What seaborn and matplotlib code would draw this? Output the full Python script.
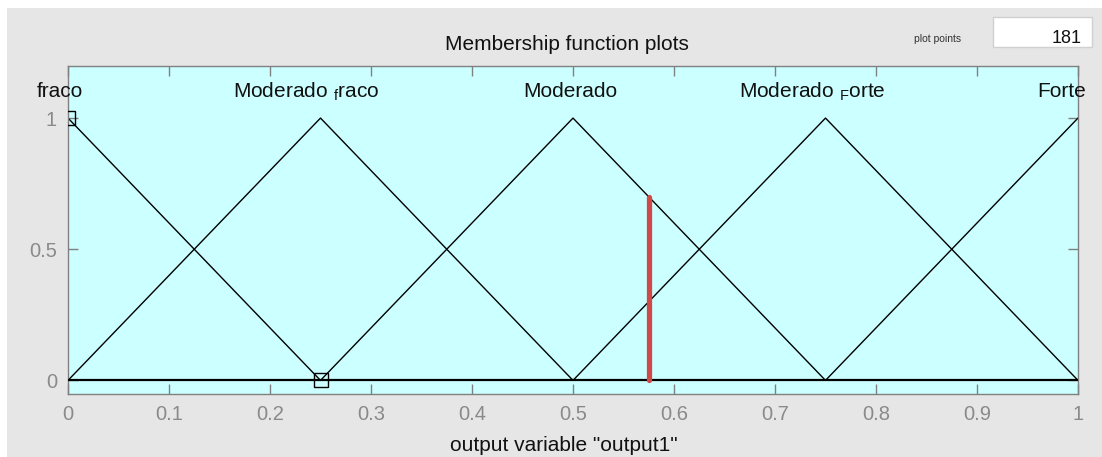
import matplotlib
matplotlib.use("Agg")
import matplotlib.pyplot as plt
import matplotlib.transforms as mtransforms
from matplotlib.patches import Rectangle
import pandas as pd
import seaborn as sns

# Membership functions of the output variable (triangular, vertices a, b, c)
mf_names = ["fraco", "Moderado_fraco", "Moderado", "Moderado_Forte", "Forte"]
mf_params = [
    [-0.25, 0.00, 0.25],
    [0.00, 0.25, 0.50],
    [0.25, 0.50, 0.75],
    [0.50, 0.75, 1.00],
    [0.75, 1.00, 1.25],
]
mf_vertex_heights = [0.0, 1.0, 0.0]

# Selected function handles (vertices of "fraco")
handle_x = [0.0, 0.25]
handle_y = [1.0, 0.0]

# Crisp output and its membership degree
output_value = 0.575
output_degree = 0.7

x_ticks = [0.0, 0.1, 0.2, 0.3, 0.4, 0.5, 0.6, 0.7, 0.8, 0.9, 1.0]
x_tick_labels = ["0", "0.1", "0.2", "0.3", "0.4", "0.5", "0.6", "0.7", "0.8", "0.9", "1"]
y_ticks = [0.0, 0.5, 1.0]
y_tick_labels = ["0", "0.5", "1"]

variable_name = "output1"
plot_points = 181

# MATLAB-style TeX rendering of the underscore (next letter as subscript)
def tex_label(name):
    if "_" in name:
        head, tail = name.split("_", 1)
        return head + r" $_\mathregular{" + tail[0] + "}$" + tail[1:]
    return name

rows = []
for name, params in zip(mf_names, mf_params):
    for xv, yv in zip(params, mf_vertex_heights):
        rows.append({"mf": name, "x": xv, "mu": yv})
df = pd.DataFrame(rows)

out_df = pd.DataFrame({"x": [output_value, output_value], "mu": [0.0, output_degree]})

sns.set_style("ticks")
plt.rcParams["font.family"] = ["Liberation Sans", "DejaVu Sans"]
plt.rcParams["mathtext.fontset"] = "custom"
plt.rcParams["mathtext.rm"] = "Liberation Sans"

W, H = 1102, 457
fig = plt.figure(figsize=(W / 100, H / 100), dpi=100, facecolor="white")

# window panel
fig.patches.append(Rectangle((7 / W, 0), 1 - 7 / W, 1 - 8 / H, transform=fig.transFigure,
                             facecolor="#e6e6e6", edgecolor="none", zorder=-10))

ax = fig.add_axes([68 / W, 1 - 393.5 / H, 1010 / W, (393.5 - 65.6) / H])
ax.set_facecolor("#ccffff")

sns.lineplot(data=df, x="x", y="mu", units="mf", estimator=None, sort=False,
             color="black", linewidth=1.0, legend=False, ax=ax)
ax.axhline(0, color="black", linewidth=1.6, zorder=3)

# crisp output marker
sns.lineplot(data=out_df, x="x", y="mu", estimator=None, sort=False, ax=ax,
             color="#d04848", linewidth=3.8, zorder=4, legend=False)

# vertex handles
ax.plot(handle_x, handle_y, linestyle="none", marker="s", markersize=9.5,
        markerfacecolor="none", markeredgecolor="black", markeredgewidth=1.0, zorder=5)

ax.set_xlim(0, 1)
ax.set_ylim(-0.05, 1.2)
ax.set_xticks(x_ticks)
ax.set_xticklabels(x_tick_labels)
ax.set_yticks(y_ticks)
ax.set_yticklabels(y_tick_labels)
ax.set_xlabel("")
ax.set_ylabel("")
ax.tick_params(axis="both", direction="in", length=7, width=1, color="#808080",
               labelcolor="#8a8a8a", labelsize=14.5, top=True, right=True)
ax.tick_params(axis="x", pad=8)
ax.tick_params(axis="y", pad=8)
for sp in ax.spines.values():
    sp.set_color("#808080")
    sp.set_linewidth(1.0)

# function names above the peaks
label_shift_px = [-8, -14, -3, -13, -16]
for name, params, dx in zip(mf_names, mf_params, label_shift_px):
    tr = mtransforms.offset_copy(ax.transData, fig=fig, x=dx, y=0, units="dots")
    ax.text(params[1], 1.08, tex_label(name), transform=tr, ha="center", va="baseline",
            fontsize=15, color="#111111", clip_on=False)

fig.text(567 / W, 1 - 50 / H, "Membership function plots", ha="center", va="baseline",
         fontsize=15, color="#111111")
fig.text(564 / W, 1 - 451 / H, f'output variable "{variable_name}"', ha="center",
         va="baseline", fontsize=15, color="#111111")

# plot points field
fig.text(938 / W, 1 - 39 / H, "plot points", ha="center", va="center",
         fontsize=7.5, color="#333333")
fig.patches.append(Rectangle((993 / W, 1 - 47 / H), 99 / W, 30 / H, transform=fig.transFigure,
                             facecolor="white", edgecolor="#d0d0d0", linewidth=1, zorder=1))
fig.text(1082 / W, 1 - 38.5 / H, str(plot_points), ha="right", va="center",
         fontsize=13, color="#111111", zorder=2)

fig.savefig("out.png", dpi=100, facecolor=fig.get_facecolor())
